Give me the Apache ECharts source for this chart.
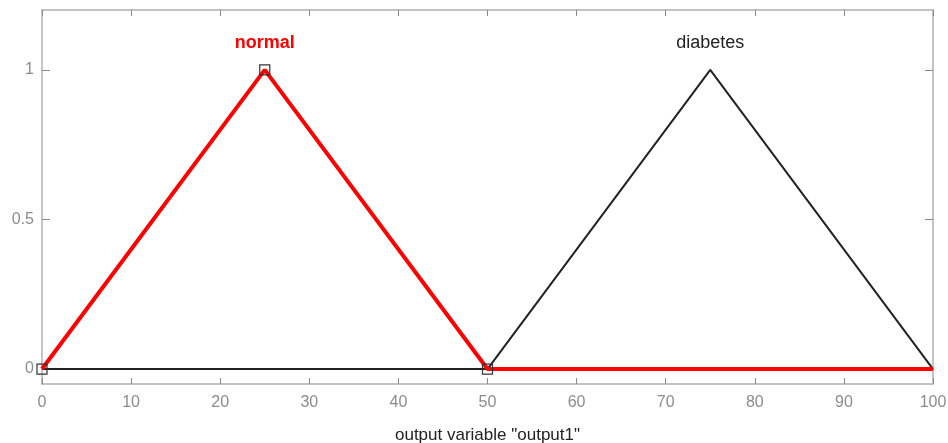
<!DOCTYPE html>
<html><head><meta charset="utf-8">
<script src="https://cdn.jsdelivr.net/npm/echarts@6/dist/echarts.min.js"></script>
<style>html,body{margin:0;padding:0;background:#fff}#c{width:948px;height:443px}</style>
</head><body><div id="c"></div>
<script>
const xPoints = [0, 25, 50, 75, 100];
const normalValues = [0, 1, 0, 0, 0];
const diabetesValues = [0, 0, 0, 1, 0];
const xTicks = [0, 10, 20, 30, 40, 50, 60, 70, 80, 90, 100];
const yTicks = [0, 0.5, 1];
const mfNames = ['normal', 'diabetes'];
const mfPeaks = [25, 75];
const selectedPoints = [[0, 0], [25, 1], [50, 0]];
const xLabel = 'output variable "output1"';

const chart = echarts.init(document.getElementById('c'));
const grey = '#8c8c8c';
const axisCommon = {
  min: 0, max: 100, interval: 10,
  axisLine: {show: true, onZero: false, lineStyle: {color: '#b0b0b0', width: 1.5}},
  axisTick: {show: true, inside: true, length: 6, lineStyle: {color: '#8a8a8a'}},
  splitLine: {show: false}
};
chart.setOption({
  animation: false,
  grid: {left: 42, right: 15, top: 10, bottom: 59, containLabel: false, outerBoundsMode: 'none'},
  xAxis: [
    Object.assign({}, axisCommon, {type: 'value', position: 'bottom',
      name: xLabel, nameLocation: 'middle', nameGap: 43,
      nameTextStyle: {color: '#222', fontSize: 17, fontFamily: 'Liberation Sans'},
      axisLabel: {color: grey, fontSize: 16, margin: 11, fontFamily: 'Liberation Sans'}}),
    Object.assign({}, axisCommon, {type: 'value', position: 'top', axisLabel: {show: false}})
  ],
  yAxis: [
    {type: 'value', min: -0.05, max: 1.2, position: 'left',
      axisLine: {show: true, onZero: false, lineStyle: {color: '#b0b0b0', width: 1.5}},
      axisTick: {show: true, inside: true, length: 8, customValues: yTicks, lineStyle: {color: '#8a8a8a'}},
      axisLabel: {color: grey, fontSize: 16, margin: 8, customValues: yTicks, fontFamily: 'Liberation Sans'},
      splitLine: {show: false}},
    {type: 'value', min: -0.05, max: 1.2, position: 'right',
      axisLine: {show: true, onZero: false, lineStyle: {color: '#b0b0b0', width: 1.5}},
      axisTick: {show: true, inside: true, length: 8, customValues: yTicks, lineStyle: {color: '#8a8a8a'}},
      axisLabel: {show: false}, splitLine: {show: false}}
  ],
  series: [
    {type: 'line', name: mfNames[1], data: xPoints.map((x, i) => [x, diabetesValues[i]]),
      symbol: 'none', lineStyle: {color: '#222', width: 2}, z: 2},
    {type: 'line', name: mfNames[0], data: xPoints.map((x, i) => [x, normalValues[i]]),
      symbol: 'none', lineStyle: {color: '#ff0000', width: 4}, z: 3},
    {type: 'scatter', data: selectedPoints, symbol: 'rect', symbolSize: 10,
      itemStyle: {color: 'rgba(0,0,0,0)', borderColor: '#333', borderWidth: 1.2, opacity: 1}, z: 4},
    {type: 'scatter', symbolSize: 0, z: 5, itemStyle: {opacity: 1},
      data: [
        {value: [mfPeaks[0], 1.09], label: {show: true, formatter: mfNames[0], position: 'inside', color: '#ff0000', fontWeight: 'bold', fontSize: 18, fontFamily: 'Liberation Sans'}},
        {value: [mfPeaks[1], 1.09], label: {show: true, formatter: mfNames[1], position: 'inside', color: '#222', fontSize: 18, fontFamily: 'Liberation Sans'}}
      ]}
  ]
});
</script></body></html>
